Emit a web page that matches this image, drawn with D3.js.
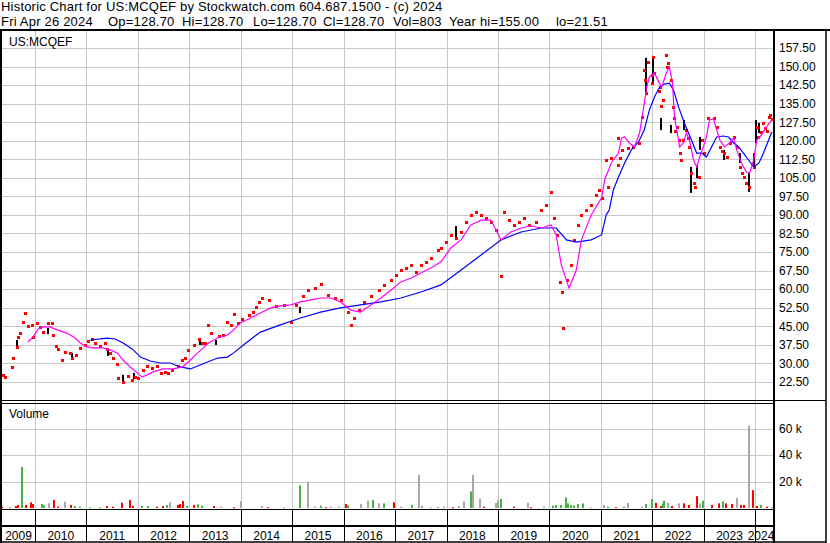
<!DOCTYPE html>
<html><head><meta charset="utf-8">
<script src="https://cdn.jsdelivr.net/npm/d3@7"></script>
<style>
body{margin:0;background:#fff}
svg{display:block}
text{font-family:Arial,"Liberation Sans",sans-serif;fill:#000}
</style>
</head><body>
<svg id="c" width="830" height="543"></svg>
<script>
// ---------- data ----------
const headerLine1 = "Historic Chart for US:MCQEF by Stockwatch.com 604.687.1500 - (c) 2024";
const headerItems = ["Fri Apr 26 2024","Op=128.70","Hi=128.70","Lo=128.70","Cl=128.70","Vol=803","Year hi=155.00","lo=21.51"];
const symbolLabel = "US:MCQEF";
const volumeLabel = "Volume";
const priceTicks = [22.5,30,37.5,45,52.5,60,67.5,75,82.5,90,97.5,105,112.5,120,127.5,135,142.5,150,157.5];
const volumeTicks = [20000,40000,60000];
const years = [2009,2010,2011,2012,2013,2014,2015,2016,2017,2018,2019,2020,2021,2022,2023,2024];

// closes (decimal year, price) – red squares
const closes = [
[2009.38,25.3],[2009.42,24.4],[2009.55,28.5],[2009.57,32.1],[2009.65,36.6],[2009.67,40.6],[2009.71,42.2],[2009.77,46.7],[2009.81,50.3],[2009.86,45.1],[2009.94,45.5],[2009.96,40.6],
[2010.04,46.3],[2010.10,44.7],[2010.16,42.6],[2010.25,46.3],[2010.33,46.3],[2010.35,41.4],[2010.41,37.0],[2010.45,35.8],[2010.53,31.3],[2010.58,34.6],[2010.68,34.2],[2010.72,32.1],[2010.80,33.3],[2010.88,36.2],[2010.97,37.4],
[2011.03,39.0],[2011.11,39.8],[2011.17,38.2],[2011.27,37.0],[2011.36,38.2],[2011.40,35.8],[2011.46,34.2],[2011.52,32.1],[2011.60,29.7],[2011.62,24.0],[2011.71,22.4],[2011.81,24.9],[2011.89,23.2],[2011.95,24.4],
[2012.01,24.0],[2012.10,27.3],[2012.18,28.9],[2012.28,28.1],[2012.38,28.9],[2012.44,26.1],[2012.53,26.5],[2012.59,26.1],[2012.67,27.3],[2012.77,28.9],[2012.86,31.3],[2012.92,32.1],[2012.98,35.4],
[2013.08,37.4],[2013.18,39.8],[2013.25,38.2],[2013.31,38.2],[2013.37,45.5],[2013.41,42.2],[2013.57,41.0],[2013.66,41.4],[2013.74,46.7],[2013.80,45.5],[2013.86,49.9],[2013.95,46.3],
[2014.03,47.9],[2014.15,49.5],[2014.23,50.7],[2014.29,52.8],[2014.36,54.8],[2014.42,56.4],[2014.54,55.6],[2014.68,53.2],[2014.83,53.6],[2014.97,46.7],
[2015.07,53.6],[2015.20,57.2],[2015.30,59.6],[2015.45,60.4],[2015.55,62.1],[2015.69,57.6],[2015.84,56.4],[2015.94,55.6],
[2016.08,50.7],[2016.14,45.5],[2016.20,48.3],[2016.29,51.5],[2016.39,54.8],[2016.53,57.2],[2016.68,59.6],[2016.78,61.7],[2016.92,63.7],
[2017.01,65.7],[2017.11,67.7],[2017.21,68.5],[2017.31,69.7],[2017.40,66.9],[2017.50,69.7],[2017.60,71.0],[2017.70,72.6],[2017.83,75.8],[2017.89,76.6],[2017.99,79.0],
[2018.08,81.9],[2018.18,80.7],[2018.28,83.1],[2018.38,87.1],[2018.47,90.0],[2018.57,91.2],[2018.67,90.0],[2018.77,88.8],[2018.86,87.1],[2018.96,83.9],
[2019.06,65.3],[2019.12,91.2],[2019.21,87.9],[2019.31,85.9],[2019.41,87.1],[2019.51,88.8],[2019.60,85.9],[2019.74,87.1],[2019.84,92.0],[2019.94,94.0],
[2020.03,99.3],[2020.09,88.8],[2020.15,81.9],[2020.21,62.9],[2020.25,58.8],[2020.27,44.3],[2020.34,63.7],[2020.42,69.7],[2020.48,79.9],[2020.56,85.9],[2020.62,90.0],[2020.71,92.0],[2020.81,94.0],[2020.91,98.1],[2020.97,100.1],
[2021.01,96.8],[2021.10,112.2],[2021.14,101.3],[2021.20,113.0],[2021.33,121.1],[2021.34,110.2],[2021.36,113.0],[2021.40,116.3],[2021.53,117.1],[2021.63,117.5],[2021.73,119.1],[2021.79,129.6],[2021.84,148.6],[2021.86,144.6],[2021.88,139.3],[2021.92,151.8],[2021.99,146.6],
[2022.00,143.3],[2022.02,153.9],[2022.04,147.4],[2022.12,140.0],[2022.14,141.7],[2022.17,134.0],[2022.21,136.5],[2022.27,154.7],[2022.28,150.0],[2022.31,151.4],[2022.37,144.6],[2022.41,133.6],[2022.42,129.0],[2022.44,124.0],[2022.47,125.6],[2022.51,120.3],[2022.53,115.0],[2022.55,112.2],[2022.60,120.3],[2022.66,124.3],[2022.69,121.0],[2022.72,117.5],[2022.76,106.9],[2022.80,103.0],[2022.82,101.3],[2022.90,105.3],[2022.96,120.3],
[2023.01,115.0],[2023.09,129.2],[2023.19,129.2],[2023.25,125.6],[2023.31,117.5],[2023.36,116.0],[2023.40,115.0],[2023.46,113.5],[2023.50,119.1],[2023.58,121.5],[2023.64,117.5],[2023.70,109.4],[2023.75,107.0],[2023.79,105.3],[2023.83,103.0],[2023.87,101.3],[2023.97,109.4],
[2024.03,125.6],[2024.06,121.5],[2024.12,123.5],[2024.15,127.0],[2024.18,125.1],[2024.23,124.0],[2024.26,129.6],[2024.29,130.5],[2024.32,128.7]
];

// daily high/low ranges (decimal year, high, low) – black bars
const ranges = [
[2009.65,39.4,36.2],[2010.25,44.3,41.8],[2010.72,34.2,31.3],[2011.42,35.4,33.0],[2011.71,25.3,22.0],[2011.93,26.1,23.6],
[2013.21,39.8,37.4],[2013.51,39.4,37.4],[2015.16,52.8,50.3],[2018.18,85.5,79.9],
[2021.88,153.5,139.3],[2022.02,154.3,143.3],[2022.16,129.2,124.3],[2022.37,126.4,123.1],[2022.62,128.4,124.3],
[2022.76,109.4,98.9],[2022.86,110.2,104.9],[2022.92,121.5,116.3],[2023.40,116.3,112.2],[2023.70,115.0,111.0],
[2023.87,106.9,99.3],[2023.97,115.0,109.4],[2024.01,128.4,119.1],[2024.07,127.2,123.1]
];

// short moving average (magenta)
const maShort = [
[2009.86,38.6],[2009.96,40.6],[2010.06,43.9],[2010.16,44.7],[2010.29,44.7],[2010.43,43.5],[2010.62,42.2],[2010.78,40.2],[2010.88,38.2],
[2011.01,36.6],[2011.13,36.2],[2011.32,36.2],[2011.46,35.4],[2011.60,34.2],[2011.71,31.3],[2011.85,28.5],[2011.99,26.1],
[2012.08,24.4],[2012.18,25.3],[2012.30,26.5],[2012.49,27.7],[2012.69,27.7],[2012.86,28.5],[2012.98,30.5],
[2013.16,34.2],[2013.27,36.2],[2013.37,38.2],[2013.55,40.2],[2013.74,41.4],[2013.86,43.5],[2013.99,46.3],
[2014.15,47.9],[2014.38,50.3],[2014.58,52.4],[2014.77,53.2],[2014.97,53.6],[2015.16,54.8],[2015.36,55.6],[2015.55,56.4],[2015.75,56.4],[2015.94,54.8],
[2016.14,51.5],[2016.33,50.7],[2016.53,53.6],[2016.72,56.4],[2016.92,59.6],[2017.11,62.9],[2017.31,64.5],[2017.50,66.5],[2017.70,68.6],[2017.89,71.0],
[2018.08,76.6],[2018.28,79.9],[2018.47,85.9],[2018.67,87.9],[2018.86,87.9],[2019.06,79.9],[2019.25,83.1],[2019.45,84.7],[2019.64,85.5],[2019.84,84.7],
[2020.03,85.9],[2020.13,81.9],[2020.23,69.7],[2020.38,60.4],[2020.52,67.7],[2020.62,79.9],[2020.81,90.0],[2021.01,96.8],[2021.07,104.1],[2021.20,111.0],
[2021.34,115.0],[2021.40,121.1],[2021.46,121.5],[2021.55,119.1],[2021.65,117.5],[2021.75,123.1],[2021.83,133.6],[2021.89,141.7],[2021.94,145.8],
[2022.04,147.4],[2022.12,143.8],[2022.18,141.7],[2022.27,147.4],[2022.33,149.8],[2022.39,143.3],[2022.43,129.6],[2022.53,117.5],[2022.60,119.1],[2022.66,123.1],
[2022.72,120.3],[2022.80,112.2],[2022.86,109.4],[2022.92,113.4],[2022.99,117.5],[2023.05,121.5],[2023.11,128.4],[2023.19,128.8],[2023.25,124.3],[2023.31,120.3],
[2023.40,117.5],[2023.50,119.1],[2023.58,121.1],[2023.64,116.3],[2023.73,111.0],[2023.83,107.3],[2023.89,106.9],[2023.97,112.2],[2024.03,120.3],[2024.12,122.3],[2024.22,125.6],[2024.32,128.4]
];

// long moving average (blue)
const maLong = [
[2011.07,39.4],[2011.40,40.2],[2011.56,39.8],[2011.71,38.2],[2011.89,35.8],[2012.05,32.5],[2012.24,30.9],[2012.44,30.1],[2012.63,30.1],[2012.82,28.5],
[2013.02,27.7],[2013.16,28.9],[2013.35,30.5],[2013.55,32.1],[2013.74,32.5],[2013.86,34.2],[2014.05,37.4],[2014.25,40.6],[2014.38,42.6],[2014.77,45.5],
[2015.16,48.3],[2015.55,50.7],[2015.94,52.4],[2016.33,53.6],[2016.72,54.8],[2017.11,56.4],[2017.50,58.8],[2017.89,61.7],[2018.28,67.7],[2018.67,73.8],
[2019.06,79.9],[2019.45,83.1],[2019.84,84.7],[2020.13,84.7],[2020.33,79.9],[2020.52,79.0],[2020.81,79.9],[2021.01,81.9],[2021.10,90.0],[2021.16,92.0],
[2021.24,100.1],[2021.34,105.3],[2021.46,111.0],[2021.59,116.3],[2021.73,119.5],[2021.84,124.3],[2021.94,132.4],[2022.04,137.7],[2022.14,141.7],[2022.23,142.9],
[2022.33,143.3],[2022.41,140.5],[2022.51,133.6],[2022.62,127.2],[2022.76,120.3],[2022.86,115.0],[2022.96,115.0],[2023.05,113.4],[2023.15,117.5],[2023.25,121.5],
[2023.38,121.9],[2023.48,121.5],[2023.58,119.1],[2023.68,117.5],[2023.77,115.0],[2023.87,112.2],[2023.97,109.4],[2024.07,110.9],[2024.16,115.0],[2024.26,120.3],[2024.32,123.5]
];

// volume (decimal year, shares, direction: u=up green, d=down red, n=unchanged gray)
const volumes = [
[2009.36,1000,"d"],[2009.51,600,"u"],[2009.63,1500,"d"],[2009.67,2300,"d"],[2009.75,31000,"u"],[2009.82,2300,"d"],[2009.92,4300,"d"],[2009.96,3000,"d"],
[2010.14,3000,"u"],[2010.18,2000,"u"],[2010.27,3500,"n"],[2010.37,6000,"d"],[2010.45,1000,"d"],[2010.58,4800,"n"],[2010.70,2300,"d"],[2010.78,1500,"u"],[2010.88,1000,"u"],
[2011.07,500,"u"],[2011.27,500,"u"],[2011.40,1500,"d"],[2011.52,1000,"d"],[2011.69,4000,"d"],[2011.85,6000,"d"],[2011.91,1500,"d"],
[2012.08,1500,"u"],[2012.20,1500,"u"],[2012.38,1000,"d"],[2012.49,1500,"d"],[2012.57,2300,"u"],[2012.63,4300,"n"],[2012.77,2300,"d"],[2012.82,3000,"d"],[2012.88,5300,"d"],[2012.96,1500,"u"],
[2013.08,2300,"d"],[2013.16,2800,"u"],[2013.25,1800,"u"],[2013.47,1500,"d"],[2013.62,1000,"n"],[2013.86,600,"d"],
[2014.01,5300,"n"],[2014.42,1500,"n"],[2014.52,600,"d"],[2014.83,600,"n"],
[2015.16,17000,"u"],[2015.30,20000,"n"],[2015.45,1000,"n"],[2015.55,1800,"u"],[2015.65,600,"d"],[2015.75,1000,"n"],[2015.90,1000,"n"],
[2016.04,3000,"d"],[2016.08,1800,"u"],[2016.33,3000,"n"],[2016.47,5500,"n"],[2016.57,6000,"u"],[2016.68,3500,"n"],[2016.78,3500,"u"],[2016.97,4300,"d"],
[2017.11,1000,"n"],[2017.33,2300,"u"],[2017.46,25000,"n"],[2017.52,1800,"n"],[2017.70,600,"n"],[2017.83,1000,"n"],[2017.95,1000,"n"],
[2018.12,600,"d"],[2018.24,1500,"n"],[2018.34,5000,"n"],[2018.47,12500,"u"],[2018.51,25000,"n"],[2018.65,7000,"n"],[2018.73,1000,"d"],[2018.96,3800,"n"],
[2019.00,6000,"n"],[2019.06,6800,"u"],[2019.31,1000,"d"],[2019.58,4000,"n"],[2019.64,600,"d"],[2019.90,1000,"n"],
[2020.07,1800,"u"],[2020.13,2300,"u"],[2020.23,2300,"u"],[2020.33,8000,"u"],[2020.36,3500,"u"],[2020.42,2300,"u"],[2020.48,1800,"u"],[2020.56,3000,"u"],[2020.66,3500,"u"],[2020.81,600,"n"],
[2021.05,2300,"n"],[2021.14,1000,"u"],[2021.30,600,"d"],[2021.44,1000,"u"],[2021.53,3800,"n"],[2021.79,1000,"n"],[2021.88,3000,"u"],[2021.99,6800,"u"],
[2022.06,3800,"d"],[2022.16,1500,"d"],[2022.21,3500,"u"],[2022.23,5500,"u"],[2022.31,3800,"n"],[2022.39,1500,"d"],[2022.51,3500,"n"],[2022.62,3500,"d"],[2022.72,2300,"d"],[2022.86,9000,"d"],[2022.92,3500,"n"],[2022.99,5500,"u"],
[2023.15,2300,"d"],[2023.29,3500,"d"],[2023.38,5000,"u"],[2023.44,3500,"d"],[2023.54,3000,"d"],[2023.64,7500,"n"],[2023.73,2300,"d"],[2023.79,2300,"d"],[2023.87,62000,"n"],[2023.95,13500,"d"],
[2024.03,1500,"d"],[2024.12,2300,"u"],[2024.22,1000,"d"],[2024.32,600,"n"]
];

// ---------- drawing ----------
const svg = d3.select("#c");
function toDate(t){const yr=Math.floor(t);const a=new Date(yr,0,1),b=new Date(yr+1,0,1);return new Date(+a+(t-yr)*(b-a));}
const x = d3.scaleTime().domain([new Date(2009,3,27), new Date(2024,3,29)]).range([0,772]);
const y = d3.scaleLinear().domain([22.5,157.5]).range([381.8,48]);
const yv = d3.scaleLinear().domain([0,80000]).range([508,402]);
const L=2, R=774, PT=31, PB=401, VT=403, VB=509.5, SB=526, BB=542, RB=826;
const grid="#c8c8c8";

// header
svg.append("text").attr("x",1).attr("y",11).style("font-size","13px").style("letter-spacing","0.2px").text(headerLine1);
const headX=[1,108,182,253,323,393,449,556];
const h2=svg.append("text").attr("y",26).style("font-size","13px").style("letter-spacing","0.2px");
headerItems.forEach((s,i)=>h2.append("tspan").attr("x",headX[i]).text(s));

// gridlines
const g=svg.append("g");
priceTicks.forEach(v=>{const yy=Math.round(y(v))+0.5;g.append("line").attr("x1",L).attr("x2",R).attr("y1",yy).attr("y2",yy).attr("stroke",grid);});
volumeTicks.forEach(v=>{const yy=Math.round(yv(v))+0.5;g.append("line").attr("x1",L).attr("x2",R).attr("y1",yy).attr("y2",yy).attr("stroke",grid);});
years.slice(1).forEach(yr=>{const xx=Math.round(x(new Date(yr,0,1)))+0.5;
  g.append("line").attr("x1",xx).attr("x2",xx).attr("y1",PT).attr("y2",VB).attr("stroke",grid);
  g.append("line").attr("x1",xx).attr("x2",xx).attr("y1",VB).attr("y2",BB).attr("stroke","#000");});

// clip
svg.append("clipPath").attr("id","cp").append("rect").attr("x",L).attr("y",PT).attr("width",R-L-1).attr("height",PB-PT);
const pg=svg.append("g").attr("clip-path","url(#cp)");

// hi-lo bars
pg.selectAll(".hl").data(ranges).enter().append("rect")
 .attr("x",d=>Math.round(x(toDate(d[0])))-1).attr("width",2)
 .attr("y",d=>y(d[1])).attr("height",d=>y(d[2])-y(d[1])).attr("fill","#000");
// closes
pg.selectAll(".cl").data(closes).enter().append("rect")
 .attr("x",d=>Math.round(x(toDate(d[0])))-1).attr("y",d=>Math.round(y(d[1]))-1)
 .attr("width",3).attr("height",3).attr("fill","#ff0000");
// moving averages
const line=d3.line().x(d=>x(toDate(d[0]))).y(d=>y(d[1]));
pg.append("path").attr("d",line(maLong)).attr("fill","none").attr("stroke","#0000ff").attr("stroke-width",1.2);
pg.append("path").attr("d",line(maShort)).attr("fill","none").attr("stroke","#ff00ff").attr("stroke-width",1.2);

// volume bars
const vcol={u:"#44b444",d:"#ff0000",n:"#a8a8a8"};
svg.append("g").selectAll("rect").data(volumes).enter().append("rect")
 .attr("x",d=>Math.round(x(toDate(d[0])))-1).attr("width",2)
 .attr("y",d=>yv(d[1])).attr("height",d=>Math.max(1,yv(0)-yv(d[1])))
 .attr("fill",d=>vcol[d[2]]);

// frame lines
function hl(x1,x2,yy,w){svg.append("line").attr("x1",x1).attr("x2",x2).attr("y1",yy).attr("y2",yy).attr("stroke","#000").attr("stroke-width",w||1);}
function vl(xx,y1,y2,w){svg.append("line").attr("x1",xx).attr("x2",xx).attr("y1",y1).attr("y2",y2).attr("stroke","#000").attr("stroke-width",w||1);}
hl(0,830,30,2);
hl(0,RB,400.5,1);
hl(0,R,403.5,1);
hl(0,R,VB,1);
hl(0,R,SB,2);
hl(0,RB,BB,1.5);
vl(1,29,543,2);
vl(R,29,543,2);
vl(RB,29,543,1.5);

// labels
svg.append("text").attr("x",9).attr("y",46).style("font-size","12px").text(symbolLabel);
svg.append("text").attr("x",9).attr("y",418).style("font-size","12px").text(volumeLabel);

// right axes
const ax=svg.append("g").attr("transform",`translate(${R},0)`)
 .call(d3.axisRight(y).tickValues(priceTicks).tickFormat(d3.format(".2f")).tickSize(0).tickPadding(5));
const axv=svg.append("g").attr("transform",`translate(${R},0)`)
 .call(d3.axisRight(yv).tickValues(volumeTicks).tickFormat(d=>(d/1000)+" k").tickSize(0).tickPadding(5));
[ax,axv].forEach(a=>{a.select(".domain").remove();a.selectAll("text").style("font-size","12px").style("font-family","Arial,'Liberation Sans',sans-serif").attr("fill","#000");});

// year labels
years.forEach(yr=>{
  const a=Math.max(L,x(new Date(yr,0,1))), b=Math.min(R,x(new Date(yr+1,0,1)));
  let cx=(a+b)/2; cx=Math.min(cx,R-13); cx=Math.max(cx,L+14);
  svg.append("text").attr("x",cx).attr("y",540).attr("text-anchor","middle").style("font-size","12px").text(yr);
});
</script>
</body></html>
